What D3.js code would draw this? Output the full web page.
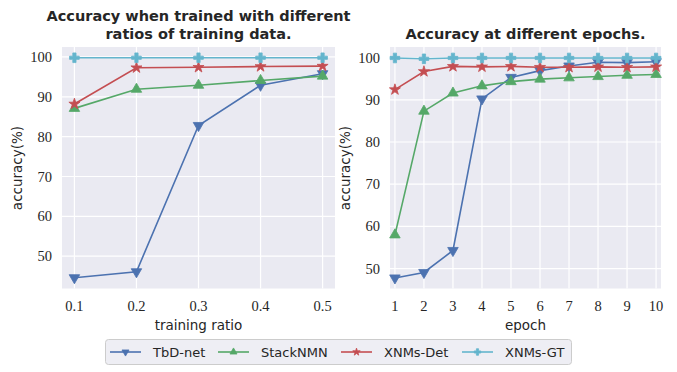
<!DOCTYPE html>
<html>
<head>
<meta charset="utf-8">
<script src="https://cdn.jsdelivr.net/npm/d3@7"></script>
<style>
  body { margin: 0; background: #fff; }
  svg { display: block; }
</style>
</head>
<body>
<div id="chart"></div>
<script>
// data
const seriesNames = ["TbD-net", "StackNMN", "XNMs-Det", "XNMs-GT"];
const colors = ["#4c72b0", "#55a868", "#c44e52", "#64b5cd"];
const markers = ["tri-down", "tri-up", "star", "plus"];

const ratios = [0.1, 0.2, 0.3, 0.4, 0.5];
const ratioTbd = [44.6, 46.1, 82.8, 92.9, 95.8];
const ratioStack = [87.1, 91.9, 92.9, 94.1, 95.2];
const ratioDet = [88.2, 97.3, 97.4, 97.6, 97.7];
const ratioGT = [99.8, 99.8, 99.8, 99.8, 99.8];

const epochs = [1, 2, 3, 4, 5, 6, 7, 8, 9, 10];
const epochTbd = [47.8, 49.1, 54.3, 90.2, 95.3, 96.9, 98.0, 98.9, 98.8, 99.0];
const epochStack = [58.0, 87.3, 91.6, 93.3, 94.3, 94.9, 95.2, 95.5, 95.8, 96.0];
const epochDet = [92.4, 96.7, 97.9, 97.8, 97.9, 97.7, 97.7, 97.8, 97.7, 97.8];
const epochGT = [99.9, 99.7, 99.9, 99.9, 99.9, 99.9, 99.9, 99.9, 99.9, 99.9];

const yTicks = [50, 60, 70, 80, 90, 100];

const width = 677, height = 372;
const svg = d3.select("#chart").append("svg")
  .attr("width", width).attr("height", height);

const sans = "DejaVu Sans, sans-serif";
const serif = "Liberation Serif, DejaVu Serif, serif";

function markerPath(type, k) {
  if (type === "tri-down" || type === "tri-up") return d3.symbol(d3.symbolTriangle, 48 * k)();
  if (type === "star") return d3.symbol(d3.symbolStar, 38 * k)();
  return d3.symbol(d3.symbolCross, 52 * k)();
}

function drawMarker(g, type, x, y, color, k = 1) {
  g.append("path")
    .attr("d", markerPath(type, k))
    .attr("transform", `translate(${x},${y})` + (type === "tri-down" ? " rotate(180)" : ""))
    .attr("fill", color)
    .attr("stroke", color)
    .attr("stroke-width", 0.8);
}

function panel(opts) {
  const g = svg.append("g");
  const x = d3.scaleLinear().domain(opts.xDomain).range([opts.left, opts.right]);
  const y = d3.scaleLinear().domain(opts.yDomain).range([288.5, 47]);

  g.append("rect")
    .attr("x", opts.left).attr("y", 47)
    .attr("width", opts.right - opts.left).attr("height", 241.5)
    .attr("fill", "#eaeaf2");

  // grid
  g.selectAll(".gx").data(opts.xTicks).enter().append("line")
    .attr("x1", d => x(d)).attr("x2", d => x(d))
    .attr("y1", 47).attr("y2", 288.5)
    .attr("stroke", "#fff").attr("stroke-width", 1.2);
  g.selectAll(".gy").data(yTicks).enter().append("line")
    .attr("x1", opts.left).attr("x2", opts.right)
    .attr("y1", d => y(d)).attr("y2", d => y(d))
    .attr("stroke", "#fff").attr("stroke-width", 1.2);

  // tick labels
  g.selectAll(".tx").data(opts.xTicks).enter().append("text")
    .attr("x", d => x(d)).attr("y", 311)
    .attr("text-anchor", "middle")
    .attr("font-family", serif).attr("font-size", 14.5).attr("fill", "#262626")
    .text(opts.xFormat);
  g.selectAll(".ty").data(yTicks).enter().append("text")
    .attr("x", opts.left - 10).attr("y", d => y(d) + 5)
    .attr("text-anchor", "end")
    .attr("font-family", serif).attr("font-size", 14.5).attr("fill", "#262626")
    .text(d => d);

  // axis labels
  g.append("text")
    .attr("x", (opts.left + opts.right) / 2).attr("y", 330)
    .attr("text-anchor", "middle")
    .attr("font-family", sans).attr("font-size", 13.5).attr("fill", "#262626")
    .text(opts.xLabel);
  g.append("text")
    .attr("transform", `translate(${opts.yLabelX},168) rotate(-90)`)
    .attr("text-anchor", "middle")
    .attr("font-family", sans).attr("font-size", 13.5).attr("fill", "#262626")
    .text("accuracy(%)");

  // title
  opts.title.forEach((t, i) => {
    g.append("text")
      .attr("x", (opts.left + opts.right) / 2)
      .attr("y", opts.titleY + i * 17.5)
      .attr("text-anchor", "middle")
      .attr("font-family", sans).attr("font-weight", "bold")
      .attr("font-size", 14.5).attr("fill", "#262626")
      .text(t);
  });

  // series
  const line = d3.line().x(d => x(d[0])).y(d => y(d[1]));
  opts.series.forEach((vals, i) => {
    const pts = opts.xs.map((xv, j) => [xv, vals[j]]);
    g.append("path")
      .attr("d", line(pts))
      .attr("fill", "none")
      .attr("stroke", colors[i])
      .attr("stroke-width", 1.6);
    pts.forEach(p => drawMarker(g, markers[i], x(p[0]), y(p[1]), colors[i]));
  });
}

panel({
  left: 62, right: 335,
  xDomain: [0.08, 0.52], yDomain: [41.9, 102.5],
  xs: ratios, xTicks: ratios, xFormat: d => d.toFixed(1),
  series: [ratioTbd, ratioStack, ratioDet, ratioGT],
  xLabel: "training ratio", yLabelX: 22,
  title: ["Accuracy when trained with different", "ratios of training data."],
  titleY: 21
});

panel({
  left: 390, right: 661,
  xDomain: [0.83, 10.17], yDomain: [45.3, 102.5],
  xs: epochs, xTicks: epochs, xFormat: d => d,
  series: [epochTbd, epochStack, epochDet, epochGT],
  xLabel: "epoch", yLabelX: 350,
  title: ["Accuracy at different epochs."],
  titleY: 38.5
});

// legend
const lg = svg.append("g");
lg.append("rect")
  .attr("x", 105.5).attr("y", 339.5)
  .attr("width", 466).attr("height", 25)
  .attr("rx", 3)
  .attr("fill", "#eeeef4").attr("stroke", "#cccccc").attr("stroke-width", 1);
const legendX = [110, 218, 341, 462];
seriesNames.forEach((name, i) => {
  const lx = legendX[i];
  lg.append("line")
    .attr("x1", lx).attr("x2", lx + 31)
    .attr("y1", 352).attr("y2", 352)
    .attr("stroke", colors[i]).attr("stroke-width", 1.6);
  drawMarker(lg, markers[i], lx + 15.5, 352, colors[i], 0.45);
  lg.append("text")
    .attr("x", lx + 43).attr("y", 356.5)
    .attr("font-family", sans).attr("font-size", 13)
    .attr("fill", "#262626")
    .text(name);
});
</script>
</body>
</html>
